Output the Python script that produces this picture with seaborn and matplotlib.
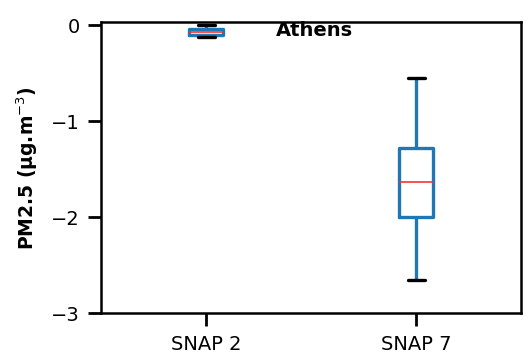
import numpy as np
import pandas as pd
import seaborn as sns
import matplotlib.pyplot as plt

# five-number summaries (min, q1, median, q3, max)
sectors = ["SNAP 2", "SNAP 7"]
snap2 = [-0.12, -0.104, -0.073, -0.045, 0.0]
snap7 = [-2.66, -2.0, -1.63, -1.28, -0.55]
city = "Athens"

df = pd.DataFrame({
    "sector": [sectors[0]] * len(snap2) + [sectors[1]] * len(snap7),
    "pm25": snap2 + snap7,
})

sns.set_style("ticks")
plt.rcParams['font.family'] = ['DejaVu Sans']
plt.rcParams['text.color'] = 'black'
plt.rcParams['axes.labelcolor'] = 'black'
plt.rcParams['xtick.color'] = 'black'
plt.rcParams['ytick.color'] = 'black'
fig, ax = plt.subplots(figsize=(5.27, 3.53), dpi=100)

sns.boxplot(data=df, x="sector", y="pm25", ax=ax, width=0.16, fill=False,
            color="#1f77b4", linewidth=2.4, whis=(0, 100),
            capprops=dict(color="black", linewidth=2.4),
            medianprops=dict(color="#ff3030", linewidth=1.2))

ax.set_xlim(-0.5, 1.5)
ax.set_ylim(-3, 0.03)
ax.set_yticks([0, -1, -2, -3])
ax.set_yticklabels(["0", "\u22121", "\u22122", "\u22123"])
ax.set_xlabel("")
ax.set_ylabel("PM2.5 (\u00b5g.m$^{-3}$)", fontsize=13.5, fontweight="bold",
              labelpad=8)
ax.tick_params(labelsize=14, length=9.5, width=2, pad=6)
for s in ax.spines.values():
    s.set_linewidth(1.8)
    s.set_color("black")
ax.text(0.415, 0.97, city, transform=ax.transAxes, fontsize=14,
        fontweight="bold", va="center", ha="left")

plt.subplots_adjust(left=0.192, right=0.989, top=0.937, bottom=0.113)
fig.savefig("out.png", dpi=100)
